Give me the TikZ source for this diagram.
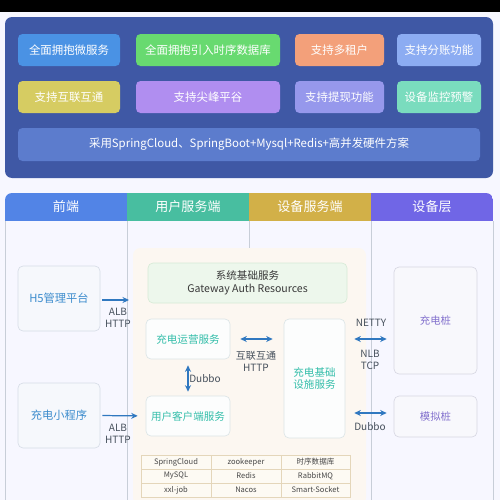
\documentclass[tikz,border=0pt]{standalone}
\usepackage{fontspec}
\setmainfont{Noto Sans CJK SC}
\usetikzlibrary{arrows.meta,calc}
\definecolor{panel}{RGB}{63,88,165}
\definecolor{cA}{RGB}{74,146,228}
\definecolor{cB}{RGB}{104,218,112}
\definecolor{cC}{RGB}{243,160,122}
\definecolor{cD}{RGB}{140,172,242}
\definecolor{cE}{RGB}{214,204,98}
\definecolor{cF}{RGB}{176,142,240}
\definecolor{cG}{RGB}{150,152,236}
\definecolor{cH}{RGB}{122,220,190}
\definecolor{cI}{RGB}{92,124,205}
\definecolor{hA}{RGB}{82,132,230}
\definecolor{hB}{RGB}{72,190,160}
\definecolor{hC}{RGB}{210,176,72}
\definecolor{hD}{RGB}{112,102,230}
\definecolor{divline}{RGB}{200,206,216}
\definecolor{peach}{RGB}{252,247,241}
\definecolor{feTxt}{RGB}{60,140,205}
\definecolor{feFill}{RGB}{246,248,252}
\definecolor{feDraw}{RGB}{214,220,230}
\definecolor{sysFill}{RGB}{237,247,236}
\definecolor{sysDraw}{RGB}{214,234,214}
\definecolor{svTxt}{RGB}{52,190,170}
\definecolor{svFill}{RGB}{252,253,253}
\definecolor{svDraw}{RGB}{218,228,230}
\definecolor{dvTxt}{RGB}{130,112,205}
\definecolor{dvFill}{RGB}{248,248,252}
\definecolor{dvDraw}{RGB}{214,214,226}
\definecolor{arrc}{RGB}{48,120,192}
\definecolor{lbl}{RGB}{70,80,92}
\definecolor{tbFill}{RGB}{253,250,243}
\definecolor{tbDraw}{RGB}{228,214,186}
\begin{document}
\begin{tikzpicture}[x=0.2mm,y=-0.2mm,
  sz/.style 2 args={minimum width=#1*0.2mm, minimum height=#2*0.2mm},
  feat/.style={rounded corners=0.9mm, inner sep=0pt, text=white, font=\fontsize{6.5}{7.5}\selectfont},
  hdr/.style={inner sep=0pt, text=white, font=\fontsize{7.4}{8.4}\selectfont, sz={122}{28}},
  febox/.style={draw=feDraw, fill=feFill, line width=0.35pt, rounded corners=1mm, inner sep=0pt, text=feTxt, font=\fontsize{6.4}{7.4}\selectfont, sz={82}{65}},
  sysbox/.style={draw=sysDraw, fill=sysFill, line width=0.35pt, rounded corners=1mm, inner sep=0pt, text=black!78, align=center, font=\fontsize{6}{7.2}\selectfont},
  svbox/.style={draw=svDraw, fill=svFill, line width=0.35pt, rounded corners=1mm, inner sep=0pt, text=svTxt, align=center, font=\fontsize{6}{7.2}\selectfont},
  dvbox/.style={draw=dvDraw, fill=dvFill, line width=0.35pt, rounded corners=1mm, inner sep=0pt, text=dvTxt, align=center, font=\fontsize{5.9}{7}\selectfont},
  lab/.style={text=lbl, align=center, inner sep=0pt, font=\fontsize{5.7}{6.8}\selectfont},
  arr/.style={draw=arrc, line width=0.7pt, -{Stealth[length=1.3mm,width=1.2mm]}},
  darr/.style={draw=arrc, line width=0.7pt, {Stealth[length=1.3mm,width=1.2mm]}-{Stealth[length=1.3mm,width=1.2mm]}},
  cell/.style={draw=tbDraw, fill=tbFill, line width=0.35pt, inner sep=0pt, text=black!72, font=\fontsize{4.3}{5}\selectfont, sz={70}{14}},
  dv/.style={draw=divline, line width=0.4pt}]
\useasboundingbox (0,0) rectangle (500,500);
\fill[white!97!blue] (0,0) rectangle (500,500);
\fill[black] (0,0) rectangle (500,12);
% top panel
\node[fill=panel, rounded corners=1.4mm, sz={488}{161}, inner sep=0pt] (panel) at (249,97.5) {};
\node[feat, fill=cA, sz={102}{32}] (f1) at (69,50) {全面拥抱微服务};
\node[feat, fill=cB, sz={144}{32}] (f2) at (208,50) {全面拥抱引入时序数据库};
\node[feat, fill=cC, sz={89}{32}] (f3) at (339.5,50) {支持多租户};
\node[feat, fill=cD, sz={84}{32}] (f4) at (439,50) {支持分账功能};
\node[feat, fill=cE, sz={102}{32}] (f5) at (69,97) {支持互联互通};
\node[feat, fill=cF, sz={144}{32}] (f6) at (208,97) {支持尖峰平谷};
\node[feat, fill=cG, sz={89}{32}] (f7) at (339.5,97) {支持提现功能};
\node[feat, fill=cH, sz={84}{32}] (f8) at (439,97) {设备监控预警};
\node[feat, fill=cI, sz={462}{33}] (f9) at (249,144.5) {采用SpringCloud、SpringBoot+Mysql+Redis+高并发硬件方案};
% bottom frame
\fill[peach, rounded corners=1.5mm] (133,248) rectangle (366,505);
\draw[dv] (5,221) -- (5,500);
\draw[dv] (127,221) -- (127,500);
\draw[dv] (249,221) -- (249,248);
\draw[dv] (371,221) -- (371,500);
\draw[dv] (493,221) -- (493,500);
\begin{scope}
\clip (5,221) [rounded corners=1.4mm] -- (5,193) -- (493,193) [sharp corners] -- (493,221) -- cycle;
\node[hdr, fill=hA] (h1) at (66,207) {前端};
\node[hdr, fill=hB] (h2) at (188,207) {用户服务端};
\node[hdr, fill=hC] (h3) at (310,207) {设备服务端};
\node[hdr, fill=hD] (h4) at (432,207) {设备层};
\end{scope}
% boxes
\node[febox] (h5) at (59,298.5) {H5管理平台};
\node[febox] (mini) at (59,415.5) {充电小程序};
\node[sysbox, sz={199}{40}] (sys) at (247.5,283) {系统基础服务\\Gateway Auth Resources};
\node[svbox, sz={84}{40}] (ops) at (188,339) {充电运营服务};
\node[svbox, sz={84}{40}] (user) at (188,416) {用户客户端服务};
\node[svbox, sz={61}{119}] (infra) at (314.5,378.5) {充电基础\\设施服务};
\node[dvbox, sz={83}{107}] (pile) at (435.5,320.5) {充电桩};
\node[dvbox, sz={83}{41}] (sim) at (435.5,416.5) {模拟桩};
% connectors
\coordinate (h5tip) at (129,300);
\draw[arr, shorten <=0.4mm] (h5.east |- h5tip) -- (h5tip);
\draw[arr, shorten <=0.4mm, shorten >=1.6mm] (mini.east) -- (user.west);
\draw[darr, shorten <=1.2mm, shorten >=0.8mm] (ops.south) -- (user.north);
\draw[darr, shorten <=2mm, shorten >=2.2mm] (ops.east) -- (ops.east -| infra.west);
\draw[darr, shorten <=1.8mm, shorten >=1.4mm] (infra.east |- ops.east) -- (pile.west |- ops.east);
\coordinate (dy) at (0,413);
\draw[darr, shorten <=1.8mm, shorten >=1.4mm] (infra.east |- dy) -- (sim.west |- dy);
% labels
\node[lab] (l1) at (118,318) {ALB\\HTTP};
\node[lab] (l2) at (118,434) {ALB\\HTTP};
\node[lab] (l3) at (205,379) {Dubbo};
\node[lab] (l4) at (256,361) {互联互通\\HTTP};
\node[lab] (l5) at (371,323) {NETTY};
\node[lab] (l6) at (370,359.5) {NLB\\TCP};
\node[lab] (l7) at (370,427) {Dubbo};
% table
\node[cell] (t11) at (176,462) {SpringCloud};
\node[cell] (t12) at (246,462) {zookeeper};
\node[cell, sz={69}{14}] (t13) at (315.5,462) {时序数据库};
\node[cell] (t21) at (176,476) {MySQL};
\node[cell] (t22) at (246,476) {Redis};
\node[cell, sz={69}{14}] (t23) at (315.5,476) {RabbitMQ};
\node[cell] (t31) at (176,490) {xxl-job};
\node[cell] (t32) at (246,490) {Nacos};
\node[cell, sz={69}{14}] (t33) at (315.5,490) {Smart-Socket};
\end{tikzpicture}
\end{document}
